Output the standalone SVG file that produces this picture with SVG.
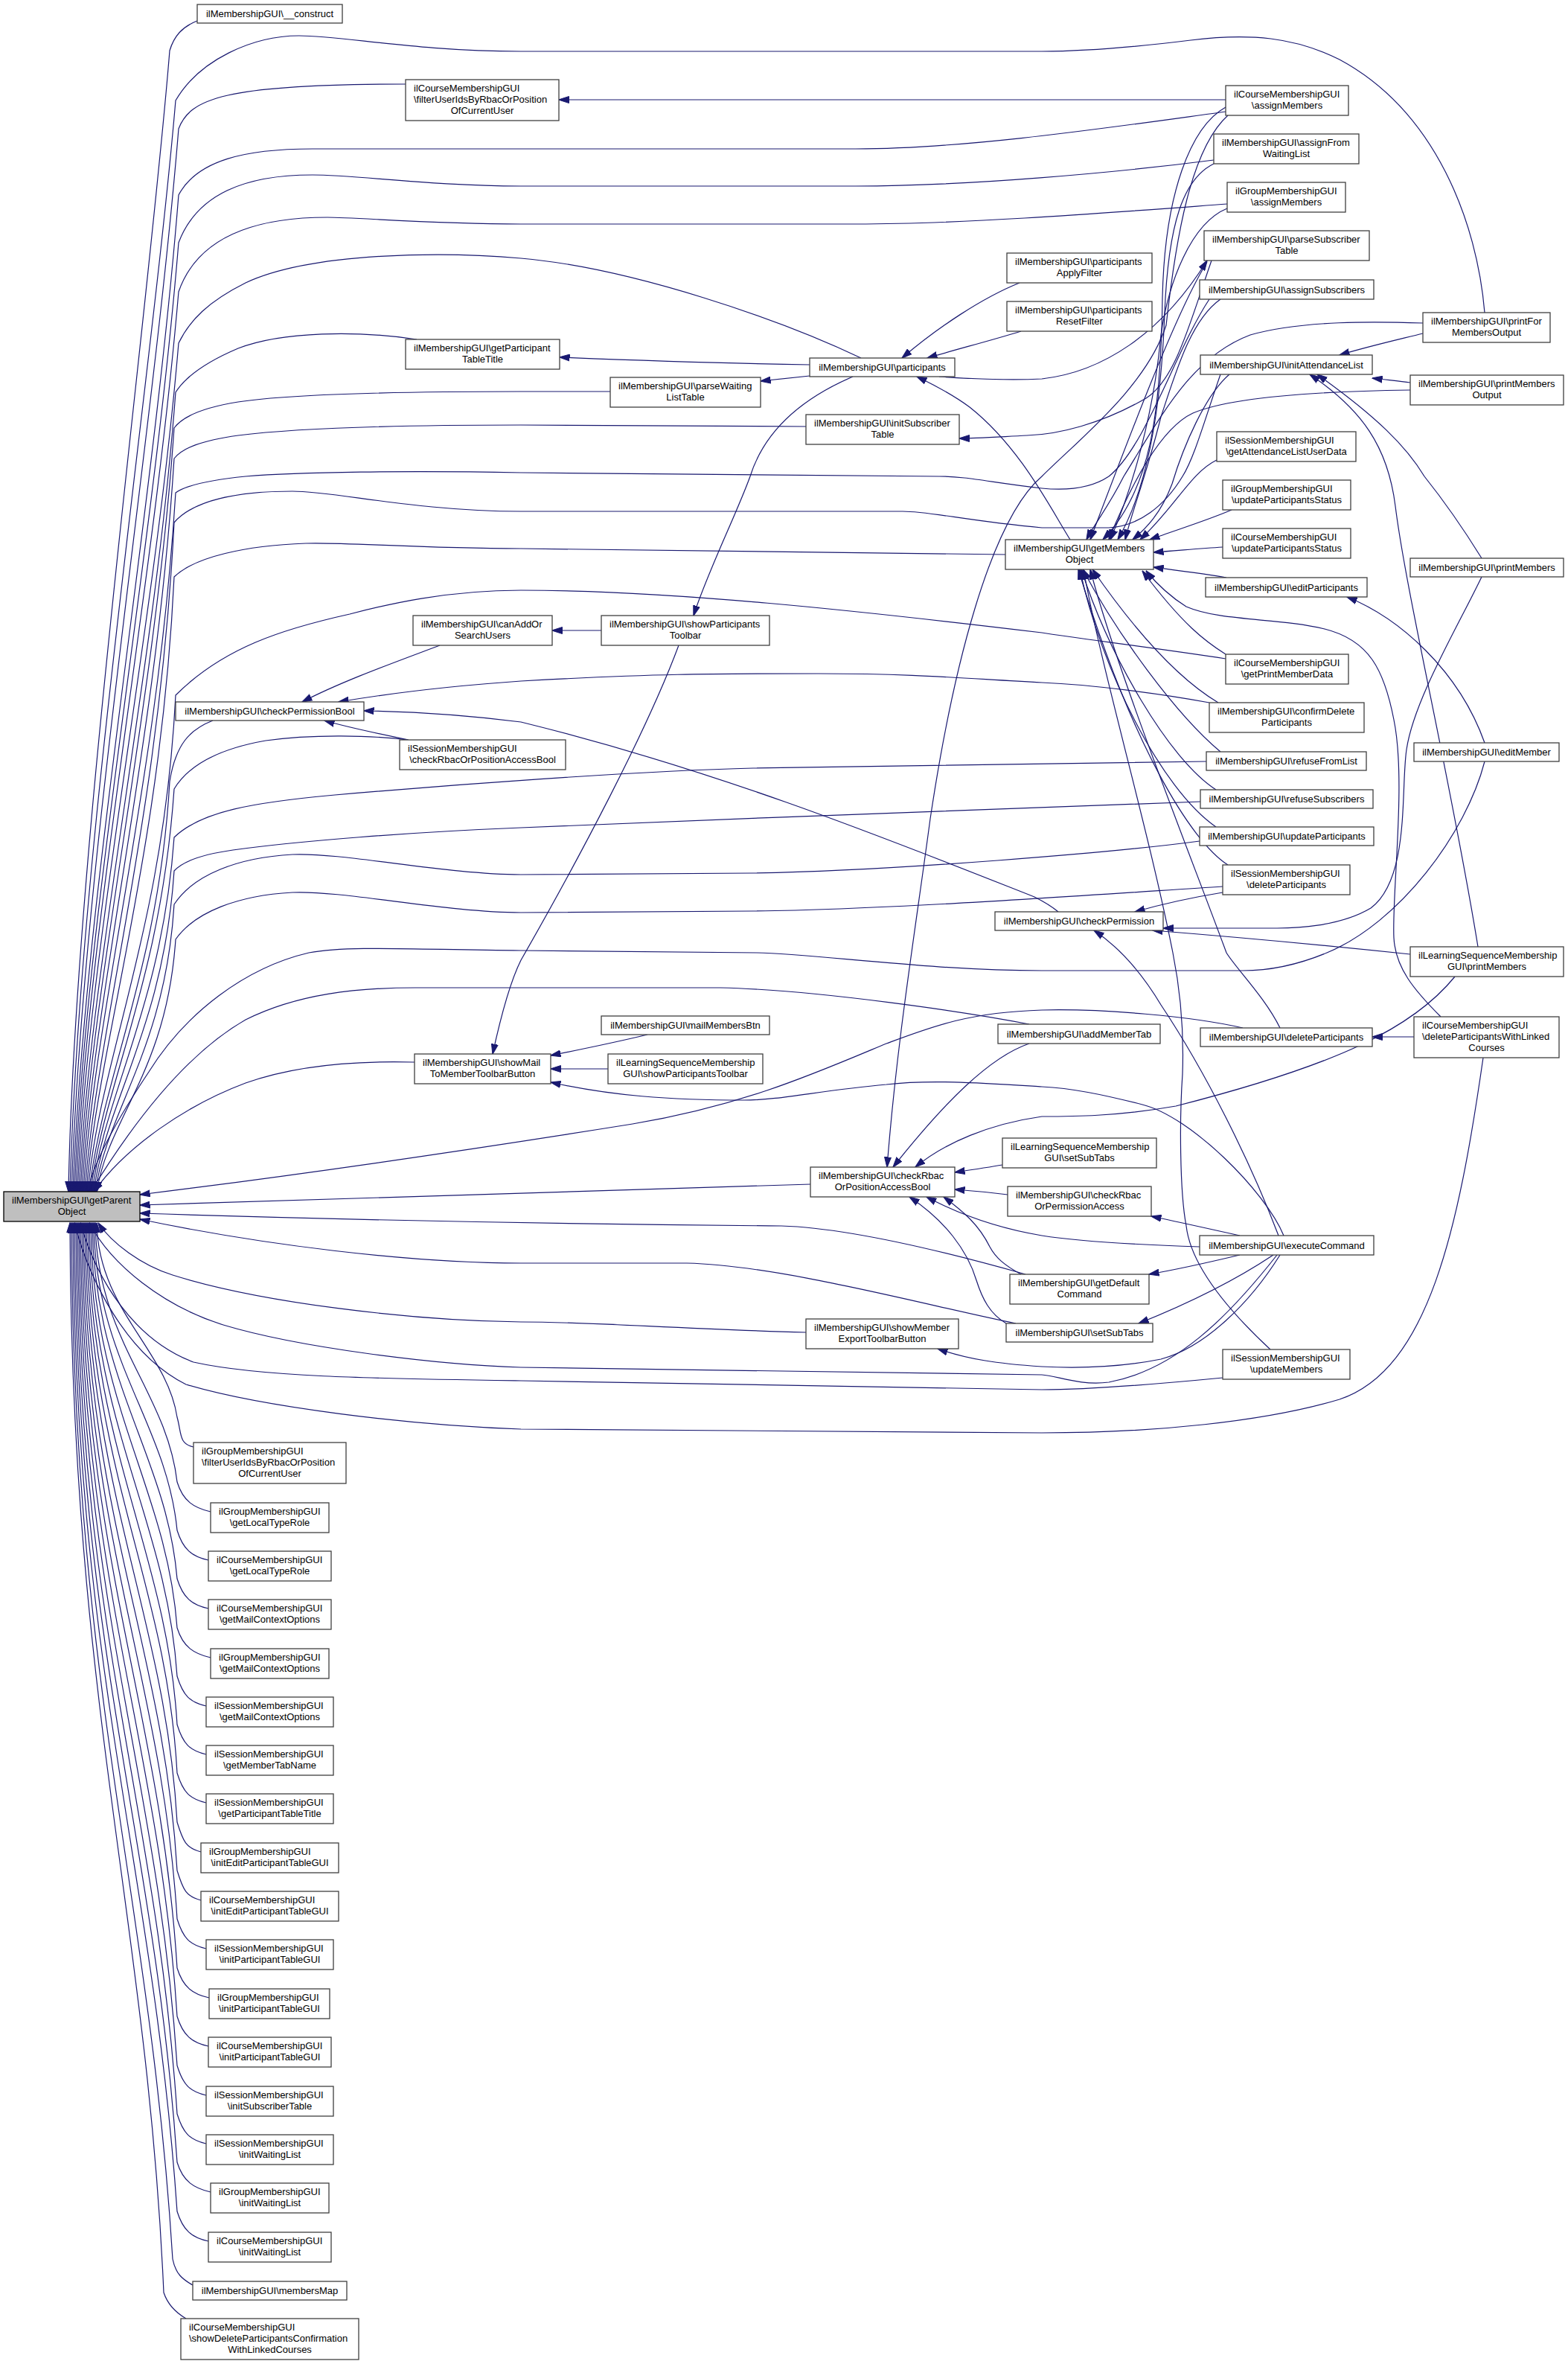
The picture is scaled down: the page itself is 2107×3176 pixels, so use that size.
<svg xmlns="http://www.w3.org/2000/svg" width="2107" height="3176" viewBox="0 0 2107 3176">
<defs>
<marker id="a" viewBox="0 0 14 10" refX="13.5" refY="5" markerWidth="14" markerHeight="10" markerUnits="userSpaceOnUse" orient="auto"><path d="M0,0.5 L14,5 L0,9.5 z" fill="#191970" stroke="#191970" stroke-width="1"/></marker>
<style>
.n rect{fill:#fff;stroke:#404040;stroke-width:1.3}
.r rect{fill:#bfbfbf;stroke:#000}
text{font-family:"Liberation Sans",Arial,Helvetica,sans-serif;font-size:13px;fill:#000}
.c{text-anchor:middle}
#edges path{fill:none;stroke:#191970;stroke-width:1.2;marker-end:url(#a)}
</style>
</defs>
<rect width="2107" height="3176" fill="#fff"/>
<g id="edges">
<path d="M265,28 C245,36 234,48 228,68 C200,420 100,1150 92,1601"/>
<path d="M1995,420 C1985,300 1930,150 1800,80 C1740,50 1680,44 1600,54 C1520,64 1450,69 1400,69 L700,69 C560,69 460,48 402,48 C340,48 268,80 236,135 C205,500 106,1150 94,1601"/>
<path d="M545,113 C300,113 255,133 240,173 C205,600 112,1150 96,1601"/>
<path d="M1647,150 C1500,170 1300,200 1150,200 L420,200 C330,200 265,215 240,262 C205,700 114,1200 98,1601"/>
<path d="M1631,215 C1500,232 1300,250 1150,250 L700,250 C580,250 480,235 420,235 C330,235 265,260 240,326 C205,750 116,1220 100,1601"/>
<path d="M1649,274 C1500,285 1300,301 1150,301 L700,301 C580,301 480,292 440,292 C340,292 265,320 240,392 C205,800 118,1240 102,1601"/>
<path d="M1157,481 C1050,430 850,360 700,347 C600,338 420,338 330,380 C280,405 255,430 240,461 C207,850 120,1260 104,1601"/>
<path d="M560,456 C480,444 380,445 320,468 C280,485 250,505 236,527 C208,900 122,1290 106,1601"/>
<path d="M820,526 L700,526 C560,526 400,528 320,540 C270,548 245,560 234,575 C208,950 124,1310 108,1601"/>
<path d="M1083,573 L700,571 C550,571 400,575 320,585 C270,592 245,602 234,616 C210,1000 126,1330 110,1601"/>
<path d="M1625,402 C1580,470 1540,600 1490,640 C1460,660 1420,658 1400,656 C1330,648 1300,640 1262,640 L700,635 C550,632 400,634 330,640 C280,645 250,652 236,662 C212,1050 128,1350 112,1601"/>
<path d="M1640,503 C1620,560 1605,615 1589,640 C1565,680 1530,707 1490,709 L1400,709 C1300,700 1250,687 1213,687 L700,687 C560,687 450,660 393,660 C320,660 260,672 234,702 C214,1100 130,1380 114,1601"/>
<path d="M1351,745 C1100,740 850,737 700,737 C560,737 460,728 411,730 C330,733 262,748 234,775 C216,1150 132,1400 116,1601"/>
<path d="M1647,885 C1550,870 1450,858 1400,850 C1150,820 900,793 700,793 C600,793 520,812 470,825 C380,845 300,870 236,934 C220,1250 134,1420 118,1601"/>
<path d="M286,968 C255,980 236,1000 228,1050 C214,1300 136,1450 120,1601"/>
<path d="M548,994 C500,988 420,986 357,995 C300,1005 255,1025 234,1060 C216,1320 138,1460 122,1601"/>
<path d="M1621,1023 C1500,1025 1300,1028 1012,1032 C850,1036 600,1055 450,1068 C340,1078 270,1090 234,1125 C218,1350 140,1470 124,1601"/>
<path d="M1613,1077 C1400,1083 1000,1100 700,1112 C550,1118 400,1130 313,1142 C270,1148 245,1158 234,1170 C220,1380 142,1480 126,1601"/>
<path d="M1612,1130 C1500,1145 1200,1170 1012,1173 L700,1175 C600,1175 460,1145 393,1148 C320,1152 260,1175 234,1215 C222,1410 144,1490 128,1601"/>
<path d="M1643,1191 C1500,1200 1200,1222 1012,1224 L700,1226 C600,1226 460,1196 393,1199 C320,1203 262,1225 236,1262 C224,1440 146,1500 130,1601"/>
<path d="M1995,1023 C1970,1120 1880,1240 1783,1280 C1740,1298 1700,1304 1670,1304 L1400,1304 C1250,1304 1100,1282 1017,1280 L700,1277 C560,1276 470,1270 415,1280 C330,1300 250,1360 200,1440 C160,1500 125,1560 118,1601"/>
<path d="M1383,1376 C1300,1360 1100,1330 968,1327 L558,1327 C480,1327 400,1335 330,1370 C260,1410 190,1490 122,1601"/>
<path d="M557,1427 C480,1425 400,1430 330,1455 C250,1485 170,1540 126,1601"/>
<path d="M1670,1381 C1600,1365 1480,1355 1400,1357 C1300,1360 1250,1380 1191,1402 C1100,1440 1000,1485 850,1510 C600,1550 350,1585 188,1605"/>
<path d="M1089,1591 C800,1598 500,1608 188,1619"/>
<path d="M1378,1712 C1300,1690 1150,1650 1050,1647 C800,1645 500,1640 188,1630"/>
<path d="M1365,1778 C1250,1755 1050,1700 923,1697 L700,1697 C550,1697 350,1672 188,1638"/>
<path d="M1083,1790 C900,1785 800,1776 700,1776 C550,1774 350,1750 232,1713 C190,1700 150,1670 132,1643"/>
<path d="M1716,1686 C1650,1770 1580,1840 1490,1857 C1450,1862 1420,1848 1400,1847 L700,1837 C580,1833 400,1810 300,1780 C220,1755 150,1700 120,1643"/>
<path d="M1643,1851 C1550,1860 1450,1867 1400,1867 L700,1855 C500,1852 350,1850 260,1830 C180,1800 130,1720 108,1643"/>
<path d="M1993,1421 C1960,1650 1920,1840 1800,1880 C1700,1910 1550,1925 1400,1925 L700,1920 C550,1915 350,1890 250,1860 C170,1820 120,1720 100,1643"/>
<path d="M260,1944 C240,1940 244,1925 238,1904 C224,1813 132,1760 130,1643"/>
<path d="M283,2031 C261,2026 246,2017 238,1991 C224,1869 130,1800 128,1643"/>
<path d="M280,2096 C258,2091 246,2082 238,2056 C224,1911 128,1829 126,1643"/>
<path d="M280,2161 C258,2156 246,2147 238,2121 C224,1954 126,1858 124,1643"/>
<path d="M283,2227 C261,2222 246,2213 238,2187 C224,1997 124,1888 122,1643"/>
<path d="M277,2292 C255,2287 246,2278 238,2252 C224,2039 122,1917 120,1643"/>
<path d="M277,2357 C255,2352 246,2343 238,2317 C224,2081 120,1946 118,1643"/>
<path d="M277,2422 C255,2417 246,2408 238,2382 C224,2123 118,1976 116,1643"/>
<path d="M270,2488 C250,2483 246,2474 238,2448 C222,2166 116,2005 114,1643"/>
<path d="M270,2553 C250,2548 246,2539 238,2513 C220,2208 114,2035 112,1643"/>
<path d="M277,2618 C255,2613 246,2604 238,2578 C218,2251 112,2064 110,1643"/>
<path d="M281,2684 C259,2679 246,2670 238,2644 C216,2294 110,2093 108,1643"/>
<path d="M280,2749 C258,2744 246,2735 238,2709 C214,2336 108,2123 106,1643"/>
<path d="M277,2815 C255,2810 246,2801 238,2775 C212,2379 106,2152 104,1643"/>
<path d="M277,2880 C255,2875 246,2866 238,2840 C210,2421 104,2182 102,1643"/>
<path d="M283,2945 C261,2940 246,2931 238,2905 C208,2463 102,2211 100,1643"/>
<path d="M280,3011 C258,3006 246,2997 238,2971 C206,2506 100,2241 98,1643"/>
<path d="M259,3070 C245,3062 236,3055 232,3035 C202,2548 98,2269 96,1643"/>
<path d="M250,3115 C238,3108 226,3098 220,3080 C198,2577 96,2290 94,1643"/>
<path d="M1647,134 L751,134"/>
<path d="M1088,490 C950,488 850,484 752,480"/>
<path d="M1088,505 C1060,508 1040,510 1022,512"/>
<path d="M1146,506 C1090,530 1030,570 1008,640 C990,690 950,770 932,827"/>
<path d="M1370,380 C1320,400 1260,440 1212,481"/>
<path d="M1372,445 C1330,458 1290,468 1246,481"/>
<path d="M1438,725 C1410,680 1370,600 1303,547 C1280,530 1255,517 1232,506"/>
<path d="M1262,506 C1320,510 1360,511 1400,509 C1480,500 1560,450 1622,350"/>
<path d="M1628,350 C1600,430 1580,510 1540,535 C1480,570 1420,584 1380,585 C1340,587 1310,589 1289,589"/>
<path d="M808,847 L742,847"/>
<path d="M591,867 C530,890 460,915 406,943"/>
<path d="M1625,944 C1560,932 1470,920 1400,917 C1300,912 1236,905 1100,905 C950,905 879,905 700,915 C600,922 520,932 455,943"/>
<path d="M549,994 C520,988 470,978 436,968"/>
<path d="M1422,1225 C1410,1215 1400,1210 1390,1205 C1200,1130 968,1036 700,970 C620,960 550,956 489,955"/>
<path d="M912,867 C870,980 780,1150 700,1290 C685,1320 672,1370 662,1416"/>
<path d="M870,1390 C820,1402 780,1410 740,1418"/>
<path d="M817,1436 L740,1436"/>
<path d="M1725,1660 C1700,1600 1600,1500 1535,1484 C1480,1470 1440,1462 1400,1460 C1320,1455 1250,1450 1191,1457 C1100,1465 1050,1478 1000,1478 C900,1478 820,1472 740,1454"/>
<path d="M1383,1402 C1330,1420 1270,1480 1200,1568"/>
<path d="M1955,1312 C1900,1380 1800,1430 1580,1486 C1500,1500 1440,1500 1400,1500 C1330,1510 1270,1535 1230,1568"/>
<path d="M1650,155 C1600,200 1580,320 1567,437 C1540,520 1450,590 1400,640 C1330,700 1280,900 1250,1100 C1230,1250 1205,1400 1192,1568"/>
<path d="M1347,1565 C1330,1568 1310,1571 1283,1575"/>
<path d="M1354,1605 C1330,1602 1310,1600 1283,1598"/>
<path d="M1352,1778 C1330,1765 1320,1745 1312,1720 C1300,1680 1270,1640 1222,1608"/>
<path d="M1372,1712 C1350,1700 1338,1690 1330,1675 C1315,1645 1295,1628 1268,1608"/>
<path d="M1612,1675 C1520,1672 1450,1668 1400,1660 C1340,1650 1290,1632 1245,1608"/>
<path d="M1666,1660 C1620,1650 1590,1643 1547,1634"/>
<path d="M1666,1686 C1620,1697 1590,1704 1544,1712"/>
<path d="M1711,1686 C1660,1720 1600,1750 1530,1778"/>
<path d="M1720,1686 C1680,1750 1620,1810 1560,1826 C1500,1838 1440,1838 1400,1836 C1340,1832 1300,1826 1260,1812"/>
<path d="M1718,1660 C1680,1560 1620,1440 1560,1350 C1530,1300 1500,1270 1470,1250"/>
<path d="M1643,1199 C1600,1206 1560,1215 1525,1225"/>
<path d="M1991,775 C1960,840 1900,940 1890,1007 C1882,1060 1895,1180 1842,1220 C1800,1245 1740,1247 1716,1247 L1563,1247"/>
<path d="M1895,1282 C1800,1272 1650,1258 1549,1250"/>
<path d="M1991,750 C1960,700 1930,660 1914,640 C1890,600 1850,560 1770,503"/>
<path d="M1986,1272 C1950,1050 1890,800 1875,680 C1865,600 1830,550 1760,503"/>
<path d="M1912,448 C1880,456 1840,465 1800,477"/>
<path d="M1895,514 C1880,512 1860,510 1844,508"/>
<path d="M1912,434 C1850,432 1750,430 1680,450 C1600,480 1560,560 1510,640 C1490,680 1470,705 1460,725"/>
<path d="M1895,524 C1750,526 1650,535 1603,555 C1560,575 1520,650 1490,725"/>
<path d="M1900,1393 L1844,1393"/>
<path d="M1936,1366 C1900,1330 1875,1300 1873,1260 C1870,1200 1890,1050 1873,967 C1860,900 1840,860 1780,845 C1720,830 1640,835 1594,815 C1570,800 1555,785 1540,767"/>
<path d="M1720,1381 C1700,1340 1660,1300 1648,1280 C1600,1150 1500,900 1465,765"/>
<path d="M1707,1813 C1650,1760 1600,1700 1594,1647 C1585,1600 1585,1500 1589,1443 C1592,1360 1580,1300 1576,1280 C1540,1100 1480,900 1456,765"/>
<path d="M1640,1010 C1580,960 1500,850 1455,765"/>
<path d="M1634,1061 C1570,1020 1490,880 1453,765"/>
<path d="M1634,1111 C1560,1060 1480,900 1451,765"/>
<path d="M1650,1162 C1600,1130 1520,1000 1449,765"/>
<path d="M1637,944 C1580,910 1520,840 1468,765"/>
<path d="M1647,879 C1620,862 1590,840 1535,767"/>
<path d="M1648,776 C1620,771 1580,766 1550,762"/>
<path d="M1643,735 C1610,737 1580,740 1550,742"/>
<path d="M1655,685 C1620,700 1580,712 1545,725"/>
<path d="M1635,618 C1600,635 1580,680 1532,725"/>
<path d="M1640,402 C1600,430 1580,500 1560,560 C1540,640 1520,690 1512,725"/>
<path d="M1652,503 C1620,530 1590,600 1575,650 C1560,690 1540,710 1522,725"/>
<path d="M1622,352 C1580,420 1520,580 1465,725"/>
<path d="M1649,280 C1600,300 1570,380 1560,450 C1550,560 1520,660 1492,725"/>
<path d="M1631,220 C1590,240 1570,300 1565,420 C1560,560 1540,660 1502,725"/>
<path d="M1647,144 C1600,170 1565,260 1562,400 C1560,560 1545,660 1482,725"/>
<path d="M1995,998 C1960,900 1880,830 1810,802"/>
</g>
<g id="nodes">
<g id="n_root" class="n r"><rect x="5" y="1601" width="183" height="40"/><text x="16" y="1616.5">ilMembershipGUI\getParent</text><text x="96.5" y="1631.5" class="c">Object</text></g>
<g id="n_construct" class="n"><rect x="265" y="6" width="195" height="25"/><text x="362.5" y="22.5" class="c">ilMembershipGUI\__construct</text></g>
<g id="n_cfilter" class="n"><rect x="545" y="107" width="206" height="55"/><text x="556" y="122.5">ilCourseMembershipGUI</text><text x="556" y="137.5">\filterUserIdsByRbacOrPosition</text><text x="648" y="152.5" class="c">OfCurrentUser</text></g>
<g id="n_cam" class="n"><rect x="1647" y="115" width="165" height="40"/><text x="1658" y="130.5">ilCourseMembershipGUI</text><text x="1729.5" y="145.5" class="c">\assignMembers</text></g>
<g id="n_afwl" class="n"><rect x="1631" y="180" width="195" height="40"/><text x="1642" y="195.5">ilMembershipGUI\assignFrom</text><text x="1728.5" y="210.5" class="c">WaitingList</text></g>
<g id="n_gam" class="n"><rect x="1649" y="245" width="159" height="40"/><text x="1660" y="260.5">ilGroupMembershipGUI</text><text x="1728.5" y="275.5" class="c">\assignMembers</text></g>
<g id="n_pst" class="n"><rect x="1618" y="310" width="222" height="40"/><text x="1629" y="325.5">ilMembershipGUI\parseSubscriber</text><text x="1729" y="340.5" class="c">Table</text></g>
<g id="n_paf" class="n"><rect x="1353" y="340" width="195" height="40"/><text x="1364" y="355.5">ilMembershipGUI\participants</text><text x="1450.5" y="370.5" class="c">ApplyFilter</text></g>
<g id="n_as" class="n"><rect x="1612" y="376" width="234" height="26"/><text x="1729" y="393.5" class="c">ilMembershipGUI\assignSubscribers</text></g>
<g id="n_prf" class="n"><rect x="1353" y="405" width="195" height="40"/><text x="1364" y="420.5">ilMembershipGUI\participants</text><text x="1450.5" y="435.5" class="c">ResetFilter</text></g>
<g id="n_pfmo" class="n"><rect x="1912" y="420" width="171" height="40"/><text x="1923" y="435.5">ilMembershipGUI\printFor</text><text x="1997.5" y="450.5" class="c">MembersOutput</text></g>
<g id="n_gptt" class="n"><rect x="545" y="456" width="207" height="40"/><text x="556" y="471.5">ilMembershipGUI\getParticipant</text><text x="648.5" y="486.5" class="c">TableTitle</text></g>
<g id="n_ial" class="n"><rect x="1613" y="477" width="231" height="26"/><text x="1728.5" y="494.5" class="c">ilMembershipGUI\initAttendanceList</text></g>
<g id="n_part" class="n"><rect x="1088" y="481" width="195" height="25"/><text x="1185.5" y="497.5" class="c">ilMembershipGUI\participants</text></g>
<g id="n_pmo" class="n"><rect x="1895" y="504" width="206" height="40"/><text x="1906" y="519.5">ilMembershipGUI\printMembers</text><text x="1998" y="534.5" class="c">Output</text></g>
<g id="n_pwlt" class="n"><rect x="820" y="507" width="202" height="40"/><text x="831" y="522.5">ilMembershipGUI\parseWaiting</text><text x="921" y="537.5" class="c">ListTable</text></g>
<g id="n_ist" class="n"><rect x="1083" y="557" width="206" height="40"/><text x="1094" y="572.5">ilMembershipGUI\initSubscriber</text><text x="1186" y="587.5" class="c">Table</text></g>
<g id="n_sgal" class="n"><rect x="1635" y="580" width="187" height="40"/><text x="1646" y="595.5">ilSessionMembershipGUI</text><text x="1728.5" y="610.5" class="c">\getAttendanceListUserData</text></g>
<g id="n_gups" class="n"><rect x="1643" y="645" width="172" height="40"/><text x="1654" y="660.5">ilGroupMembershipGUI</text><text x="1729" y="675.5" class="c">\updateParticipantsStatus</text></g>
<g id="n_cups" class="n"><rect x="1643" y="710" width="172" height="40"/><text x="1654" y="725.5">ilCourseMembershipGUI</text><text x="1729" y="740.5" class="c">\updateParticipantsStatus</text></g>
<g id="n_gmo" class="n"><rect x="1351" y="725" width="199" height="40"/><text x="1362" y="740.5">ilMembershipGUI\getMembers</text><text x="1450.5" y="755.5" class="c">Object</text></g>
<g id="n_pm" class="n"><rect x="1895" y="750" width="206" height="25"/><text x="1998" y="766.5" class="c">ilMembershipGUI\printMembers</text></g>
<g id="n_ep" class="n"><rect x="1620" y="776" width="217" height="26"/><text x="1728.5" y="793.5" class="c">ilMembershipGUI\editParticipants</text></g>
<g id="n_canadd" class="n"><rect x="555" y="827" width="187" height="40"/><text x="566" y="842.5">ilMembershipGUI\canAddOr</text><text x="648.5" y="857.5" class="c">SearchUsers</text></g>
<g id="n_sptb" class="n"><rect x="808" y="827" width="226" height="40"/><text x="819" y="842.5">ilMembershipGUI\showParticipants</text><text x="921" y="857.5" class="c">Toolbar</text></g>
<g id="n_cgpmd" class="n"><rect x="1647" y="879" width="165" height="40"/><text x="1658" y="894.5">ilCourseMembershipGUI</text><text x="1729.5" y="909.5" class="c">\getPrintMemberData</text></g>
<g id="n_cpb" class="n"><rect x="236" y="943" width="253" height="25"/><text x="362.5" y="959.5" class="c">ilMembershipGUI\checkPermissionBool</text></g>
<g id="n_cdp" class="n"><rect x="1625" y="944" width="208" height="40"/><text x="1636" y="959.5">ilMembershipGUI\confirmDelete</text><text x="1729" y="974.5" class="c">Participants</text></g>
<g id="n_scheck" class="n"><rect x="537" y="994" width="223" height="40"/><text x="548" y="1009.5">ilSessionMembershipGUI</text><text x="648.5" y="1024.5" class="c">\checkRbacOrPositionAccessBool</text></g>
<g id="n_em" class="n"><rect x="1900" y="998" width="195" height="25"/><text x="1997.5" y="1014.5" class="c">ilMembershipGUI\editMember</text></g>
<g id="n_rfl" class="n"><rect x="1621" y="1010" width="215" height="25"/><text x="1728.5" y="1026.5" class="c">ilMembershipGUI\refuseFromList</text></g>
<g id="n_rs" class="n"><rect x="1613" y="1061" width="232" height="25"/><text x="1729" y="1077.5" class="c">ilMembershipGUI\refuseSubscribers</text></g>
<g id="n_up" class="n"><rect x="1612" y="1111" width="234" height="25"/><text x="1729" y="1127.5" class="c">ilMembershipGUI\updateParticipants</text></g>
<g id="n_sdp" class="n"><rect x="1643" y="1162" width="171" height="40"/><text x="1654" y="1177.5">ilSessionMembershipGUI</text><text x="1728.5" y="1192.5" class="c">\deleteParticipants</text></g>
<g id="n_cp" class="n"><rect x="1337" y="1225" width="226" height="25"/><text x="1450" y="1241.5" class="c">ilMembershipGUI\checkPermission</text></g>
<g id="n_lspm" class="n"><rect x="1895" y="1272" width="206" height="40"/><text x="1906" y="1287.5">ilLearningSequenceMembership</text><text x="1998" y="1302.5" class="c">GUI\printMembers</text></g>
<g id="n_mailbtn" class="n"><rect x="808" y="1365" width="226" height="25"/><text x="921" y="1381.5" class="c">ilMembershipGUI\mailMembersBtn</text></g>
<g id="n_cdpwl" class="n"><rect x="1900" y="1366" width="195" height="55"/><text x="1911" y="1381.5">ilCourseMembershipGUI</text><text x="1911" y="1396.5">\deleteParticipantsWithLinked</text><text x="1997.5" y="1411.5" class="c">Courses</text></g>
<g id="n_amt" class="n"><rect x="1341" y="1376" width="218" height="26"/><text x="1450" y="1393.5" class="c">ilMembershipGUI\addMemberTab</text></g>
<g id="n_dp" class="n"><rect x="1613" y="1381" width="231" height="25"/><text x="1728.5" y="1397.5" class="c">ilMembershipGUI\deleteParticipants</text></g>
<g id="n_showmail" class="n"><rect x="557" y="1416" width="183" height="40"/><text x="568" y="1431.5">ilMembershipGUI\showMail</text><text x="648.5" y="1446.5" class="c">ToMemberToolbarButton</text></g>
<g id="n_lsspt" class="n"><rect x="817" y="1416" width="208" height="40"/><text x="828" y="1431.5">ilLearningSequenceMembership</text><text x="921" y="1446.5" class="c">GUI\showParticipantsToolbar</text></g>
<g id="n_lssub" class="n"><rect x="1347" y="1529" width="207" height="40"/><text x="1358" y="1544.5">ilLearningSequenceMembership</text><text x="1450.5" y="1559.5" class="c">GUI\setSubTabs</text></g>
<g id="n_crpab" class="n"><rect x="1089" y="1568" width="194" height="40"/><text x="1100" y="1583.5">ilMembershipGUI\checkRbac</text><text x="1186" y="1598.5" class="c">OrPositionAccessBool</text></g>
<g id="n_crpa" class="n"><rect x="1354" y="1594" width="193" height="40"/><text x="1365" y="1609.5">ilMembershipGUI\checkRbac</text><text x="1450.5" y="1624.5" class="c">OrPermissionAccess</text></g>
<g id="n_ec" class="n"><rect x="1612" y="1660" width="234" height="26"/><text x="1729" y="1677.5" class="c">ilMembershipGUI\executeCommand</text></g>
<g id="n_gdc" class="n"><rect x="1357" y="1712" width="187" height="40"/><text x="1368" y="1727.5">ilMembershipGUI\getDefault</text><text x="1450.5" y="1742.5" class="c">Command</text></g>
<g id="n_smetb" class="n"><rect x="1083" y="1772" width="205" height="40"/><text x="1094" y="1787.5">ilMembershipGUI\showMember</text><text x="1185.5" y="1802.5" class="c">ExportToolbarButton</text></g>
<g id="n_sst" class="n"><rect x="1352" y="1778" width="197" height="25"/><text x="1450.5" y="1794.5" class="c">ilMembershipGUI\setSubTabs</text></g>
<g id="n_sum" class="n"><rect x="1643" y="1813" width="171" height="40"/><text x="1654" y="1828.5">ilSessionMembershipGUI</text><text x="1728.5" y="1843.5" class="c">\updateMembers</text></g>
<g id="n_gfilter" class="n"><rect x="260" y="1938" width="205" height="55"/><text x="271" y="1953.5">ilGroupMembershipGUI</text><text x="271" y="1968.5">\filterUserIdsByRbacOrPosition</text><text x="362.5" y="1983.5" class="c">OfCurrentUser</text></g>
<g id="n_glocal" class="n"><rect x="283" y="2019" width="159" height="40"/><text x="294" y="2034.5">ilGroupMembershipGUI</text><text x="362.5" y="2049.5" class="c">\getLocalTypeRole</text></g>
<g id="n_clocal" class="n"><rect x="280" y="2084" width="165" height="40"/><text x="291" y="2099.5">ilCourseMembershipGUI</text><text x="362.5" y="2114.5" class="c">\getLocalTypeRole</text></g>
<g id="n_cmail" class="n"><rect x="280" y="2149" width="165" height="40"/><text x="291" y="2164.5">ilCourseMembershipGUI</text><text x="362.5" y="2179.5" class="c">\getMailContextOptions</text></g>
<g id="n_gmail" class="n"><rect x="283" y="2215" width="159" height="40"/><text x="294" y="2230.5">ilGroupMembershipGUI</text><text x="362.5" y="2245.5" class="c">\getMailContextOptions</text></g>
<g id="n_smail" class="n"><rect x="277" y="2280" width="171" height="40"/><text x="288" y="2295.5">ilSessionMembershipGUI</text><text x="362.5" y="2310.5" class="c">\getMailContextOptions</text></g>
<g id="n_stab" class="n"><rect x="277" y="2345" width="171" height="40"/><text x="288" y="2360.5">ilSessionMembershipGUI</text><text x="362.5" y="2375.5" class="c">\getMemberTabName</text></g>
<g id="n_stitle" class="n"><rect x="277" y="2410" width="171" height="40"/><text x="288" y="2425.5">ilSessionMembershipGUI</text><text x="362.5" y="2440.5" class="c">\getParticipantTableTitle</text></g>
<g id="n_geditpt" class="n"><rect x="270" y="2476" width="185" height="40"/><text x="281" y="2491.5">ilGroupMembershipGUI</text><text x="362.5" y="2506.5" class="c">\initEditParticipantTableGUI</text></g>
<g id="n_ceditpt" class="n"><rect x="270" y="2541" width="185" height="40"/><text x="281" y="2556.5">ilCourseMembershipGUI</text><text x="362.5" y="2571.5" class="c">\initEditParticipantTableGUI</text></g>
<g id="n_spt" class="n"><rect x="277" y="2606" width="171" height="40"/><text x="288" y="2621.5">ilSessionMembershipGUI</text><text x="362.5" y="2636.5" class="c">\initParticipantTableGUI</text></g>
<g id="n_gpt" class="n"><rect x="281" y="2672" width="162" height="40"/><text x="292" y="2687.5">ilGroupMembershipGUI</text><text x="362" y="2702.5" class="c">\initParticipantTableGUI</text></g>
<g id="n_cpt" class="n"><rect x="280" y="2737" width="165" height="40"/><text x="291" y="2752.5">ilCourseMembershipGUI</text><text x="362.5" y="2767.5" class="c">\initParticipantTableGUI</text></g>
<g id="n_ssub" class="n"><rect x="277" y="2803" width="171" height="40"/><text x="288" y="2818.5">ilSessionMembershipGUI</text><text x="362.5" y="2833.5" class="c">\initSubscriberTable</text></g>
<g id="n_swait" class="n"><rect x="277" y="2868" width="171" height="40"/><text x="288" y="2883.5">ilSessionMembershipGUI</text><text x="362.5" y="2898.5" class="c">\initWaitingList</text></g>
<g id="n_gwait" class="n"><rect x="283" y="2933" width="159" height="40"/><text x="294" y="2948.5">ilGroupMembershipGUI</text><text x="362.5" y="2963.5" class="c">\initWaitingList</text></g>
<g id="n_cwait" class="n"><rect x="280" y="2999" width="165" height="40"/><text x="291" y="3014.5">ilCourseMembershipGUI</text><text x="362.5" y="3029.5" class="c">\initWaitingList</text></g>
<g id="n_map" class="n"><rect x="259" y="3065" width="207" height="25"/><text x="362.5" y="3081.5" class="c">ilMembershipGUI\membersMap</text></g>
<g id="n_cshowdel" class="n"><rect x="243" y="3115" width="239" height="55"/><text x="254" y="3130.5">ilCourseMembershipGUI</text><text x="254" y="3145.5">\showDeleteParticipantsConfirmation</text><text x="362.5" y="3160.5" class="c">WithLinkedCourses</text></g>
</g>
</svg>
